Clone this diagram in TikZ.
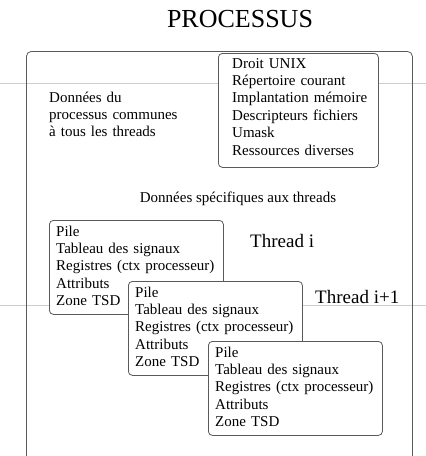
\documentclass[tikz,border=0pt]{standalone}
\usepackage{fontspec}
\setmainfont{Liberation Serif}
\usetikzlibrary{positioning, calc}
\definecolor{boxgray}{RGB}{90,90,90}
\definecolor{rulegray}{RGB}{205,205,205}

\begin{document}
\begin{tikzpicture}[
x=1pt, y=-1pt,
box/.style={rectangle, draw=boxgray, line width=0.8pt, rounded corners=4pt, fill=white, inner sep=0pt, anchor=north west},
threadbox/.style={box, minimum width=174pt, minimum height=94pt},
lines/.style={anchor=base west, inner sep=0pt, text width=200pt, align=left, font=\fontsize{15}{17.4}\selectfont},
label/.style={anchor=base west, inner sep=0pt, font=\fontsize{19}{22}\selectfont}
]
\clip (0,0) rectangle (426,456);

% page rules behind everything
\draw[rulegray, line width=0.8pt] (0,83) -- (426,83);
\draw[rulegray, line width=0.8pt] (0,305) -- (426,305);

% Process
\node[anchor=base, inner sep=0pt, font=\fontsize{26}{30}\selectfont] (title) at (240,27) {PROCESSUS};
\node[box, fill=none, rounded corners=5pt, minimum width=386pt, minimum height=430pt] (processus) at (26,51) {};

% Shared data
\node[lines] (shared) at (49,102) {Données du\\processus communes\\à tous les threads};
\node[box, minimum width=160pt, minimum height=114pt] (common) at (218,53) {};
\node[lines] (commontext) at ($(common.north west)+(14,15)$) {Droit UNIX\\Répertoire courant\\Implantation mémoire\\Descripteurs fichiers\\Umask\\Ressources diverses};

% Thread data
\node[anchor=base, inner sep=0pt, font=\fontsize{15}{17.4}\selectfont] (specific) at (238,202) {Données spécifiques aux threads};
\foreach \n/\x/\y in {i/49/220, ii/128/281, iii/208/341} {
  \node[threadbox] (thr\n) at (\x,\y) {};
  \node[lines] (thr\n text) at ($(thr\n.north west)+(7,16)$) {Pile\\Tableau des signaux\\Registres (ctx processeur)\\Attributs\\Zone TSD};
}
\node[label] (thrilabel) at (250,247) {Thread i};
\node[label] (thriilabel) at (315,303) {Thread i+1};

\end{tikzpicture}
\end{document}
